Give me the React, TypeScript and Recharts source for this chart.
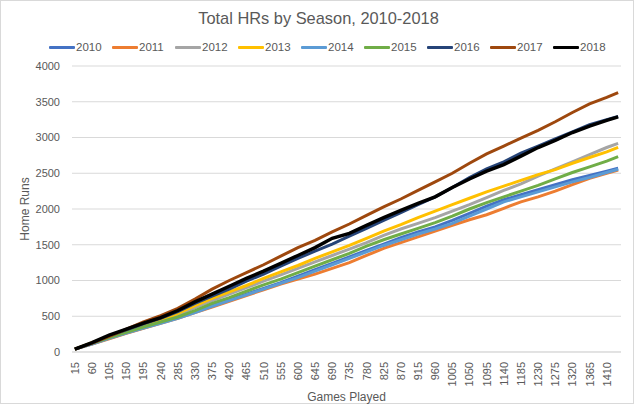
import { LineChart, Line, XAxis, YAxis, CartesianGrid, Legend, Label } from "recharts";

// games played at each sample
const games = [
  15, 60, 105, 150, 195, 240, 285, 330, 375, 420, 465,
  510, 555, 600, 645, 690, 735, 780, 825, 870, 915, 960,
  1005, 1050, 1095, 1140, 1185, 1230, 1275, 1320, 1365, 1410, 1440,
];

// x-axis tick labels
const gameTicks = [
  15, 60, 105, 150, 195, 240, 285, 330, 375, 420, 465, 510, 555, 600, 645, 690,
  735, 780, 825, 870, 915, 960, 1005, 1050, 1095, 1140, 1185, 1230, 1275, 1320, 1365, 1410,
];

const hrTicks = [0, 500, 1000, 1500, 2000, 2500, 3000, 3500, 4000];

// cumulative home runs per season
const hr2010 = [
  40, 115, 195, 270, 340, 410, 480, 560, 650, 730, 810,
  890, 970, 1060, 1150, 1240, 1330, 1420, 1510, 1600, 1680, 1750,
  1840, 1940, 2040, 2130, 2200, 2270, 2340, 2410, 2470, 2530, 2570,
];
const hr2011 = [
  40, 110, 185, 260, 330, 400, 470, 550, 630, 710, 790,
  870, 950, 1020, 1090, 1170, 1250, 1350, 1450, 1530, 1610, 1690,
  1770, 1850, 1920, 2010, 2100, 2170, 2250, 2340, 2430, 2500, 2545,
];
const hr2012 = [
  40, 125, 210, 290, 360, 430, 520, 620, 720, 810, 900,
  990, 1080, 1170, 1260, 1350, 1440, 1530, 1630, 1720, 1800, 1880,
  1970, 2060, 2160, 2260, 2350, 2460, 2560, 2660, 2760, 2860, 2918,
];
const hr2013 = [
  40, 130, 220, 300, 370, 440, 540, 650, 750, 840, 930,
  1030, 1120, 1210, 1310, 1400, 1490, 1590, 1690, 1780, 1880, 1970,
  2060, 2150, 2240, 2320, 2400, 2480, 2550, 2640, 2720, 2800, 2863,
];
const hr2014 = [
  40, 110, 190, 265, 335, 400, 470, 550, 640, 720, 800,
  880, 960, 1040, 1130, 1220, 1310, 1400, 1490, 1570, 1650, 1720,
  1800, 1900, 2000, 2100, 2170, 2240, 2310, 2380, 2440, 2510, 2555,
];
const hr2015 = [
  40, 120, 200, 275, 350, 420, 490, 580, 680, 760, 850,
  940, 1020, 1110, 1200, 1290, 1380, 1480, 1570, 1650, 1730, 1810,
  1900, 2000, 2090, 2170, 2250, 2330, 2420, 2510, 2590, 2670, 2733,
];
const hr2016 = [
  40, 125, 225, 310, 395, 470, 565, 680, 780, 880, 990,
  1090, 1200, 1310, 1410, 1510, 1620, 1730, 1840, 1950, 2060, 2170,
  2300, 2440, 2560, 2660, 2780, 2880, 2980, 3080, 3180, 3250, 3295,
];
const hr2017 = [
  40, 125, 220, 320, 420, 510, 610, 740, 880, 1000, 1110,
  1220, 1340, 1460, 1560, 1680, 1790, 1910, 2030, 2140, 2260, 2380,
  2500, 2640, 2770, 2880, 2990, 3100, 3220, 3350, 3470, 3560, 3627,
];
const hr2018 = [
  40, 130, 235, 320, 405, 480, 580, 700, 810, 920, 1030,
  1130, 1240, 1350, 1460, 1590, 1660, 1770, 1880, 1980, 2080, 2170,
  2300, 2420, 2530, 2620, 2740, 2860, 2960, 3070, 3160, 3240, 3289,
];

const seasons = [
  { key: "2010", values: hr2010, color: "#4472C4" },
  { key: "2011", values: hr2011, color: "#ED7D31" },
  { key: "2012", values: hr2012, color: "#A5A5A5" },
  { key: "2013", values: hr2013, color: "#FFC000" },
  { key: "2014", values: hr2014, color: "#5B9BD5" },
  { key: "2015", values: hr2015, color: "#70AD47" },
  { key: "2016", values: hr2016, color: "#264478" },
  { key: "2017", values: hr2017, color: "#9E480E" },
  { key: "2018", values: hr2018, color: "#000000" },
];

const rows = games.map((g, i) => {
  const row: Record<string, number> = { game: g };
  seasons.forEach((s) => {
    row[s.key] = s.values[i];
  });
  return row;
});

const FONT = "'Liberation Sans', Arial, sans-serif";
const TEXT = "#595959";
const GRID = "#D9D9D9";

const GameTick = ({ x, y, payload }: any) => (
  <g transform={`translate(${x},${y})`}>
    <text transform="rotate(-90)" x={-10} y={4} textAnchor="end" fontSize={11} fill={TEXT}>
      {payload.value}
    </text>
  </g>
);

const HomeRunsTitle = ({ viewBox }: any) => {
  const cx = viewBox.x + 25;
  const cy = viewBox.y + viewBox.height / 2;
  return (
    <text
      x={cx}
      y={cy}
      transform={`rotate(-90 ${cx} ${cy})`}
      textAnchor="middle"
      dominantBaseline="central"
      fontSize={12}
      fill={TEXT}
    >
      Home Runs
    </text>
  );
};

const SeasonLegend = ({ payload }: any) => (
  <div style={{ display: "flex", height: 18, alignItems: "center", paddingLeft: 49 }}>
    {(payload || []).map((p: any) => (
      <div key={p.value} style={{ display: "flex", alignItems: "center", width: 63 }}>
        <span style={{ display: "inline-block", width: 26, height: 3, background: p.color, borderRadius: 1 }} />
        <span style={{ marginLeft: 1, fontSize: 11.5, color: TEXT }}>{p.value}</span>
      </div>
    ))}
  </div>
);

export default function App() {
  return (
    <div style={{ position: "relative", width: 637, height: 404, fontFamily: FONT, background: "#fff" }}>
      <style>{"body{margin:0}"}</style>
      <div
        style={{
          position: "absolute",
          left: 0,
          top: 0,
          width: 634,
          height: 404,
          boxSizing: "border-box",
          border: `1px solid ${GRID}`,
          pointerEvents: "none",
        }}
      />
      <div
        style={{
          position: "absolute",
          top: 9,
          left: 0,
          width: 637,
          textAlign: "center",
          fontSize: 16.4,
          color: TEXT,
        }}
      >
        Total HRs by Season, 2010-2018
      </div>
      <LineChart
        width={637}
        height={404}
        data={rows}
        margin={{ top: 48, right: 16, bottom: 0, left: 0 }}
        style={{ fontFamily: FONT }}
      >
        <CartesianGrid vertical={false} stroke={GRID} />
        <XAxis
          dataKey="game"
          type="number"
          domain={[7.5, 1447.5]}
          ticks={gameTicks}
          interval={0}
          height={52}
          tickSize={0}
          tickMargin={0}
          tickLine={false}
          axisLine={{ stroke: GRID }}
          tick={<GameTick />}
        >
          <Label value="Games Played" position="insideBottom" offset={3} fontSize={12} fill={TEXT} />
        </XAxis>
        <YAxis
          width={72}
          domain={[0, 4000]}
          ticks={hrTicks}
          tickSize={0}
          tickMargin={12}
          tickLine={false}
          axisLine={false}
          tick={{ fontSize: 11, fill: TEXT }}
        >
          <Label content={<HomeRunsTitle />} />
        </YAxis>
        <Legend verticalAlign="top" content={<SeasonLegend />} wrapperStyle={{ top: 38, left: 0 }} />
        {seasons.map((s) => (
          <Line
            key={s.key}
            dataKey={s.key}
            name={s.key}
            type="linear"
            stroke={s.color}
            strokeWidth={s.key === "2018" ? 3.5 : 3}
            dot={false}
            isAnimationActive={false}
          />
        ))}
      </LineChart>
    </div>
  );
}
